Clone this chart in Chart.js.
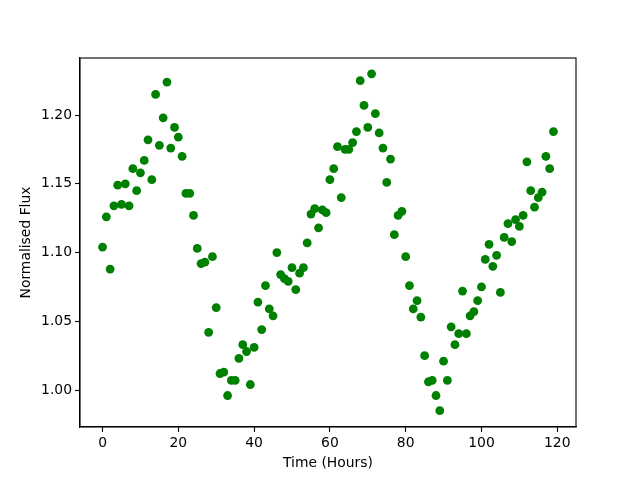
<!DOCTYPE html>
<html>
<head>
<meta charset="utf-8">
<script src="https://cdn.jsdelivr.net/npm/chart.js@4"></script>
<style>
  html, body { margin: 0; padding: 0; background: #fff; }
  #chart { display: block; }
</style>
</head>
<body>
<canvas id="chart" width="640" height="480"></canvas>
<script>
// observation times, one per hour
const hours = [
  0, 1, 2, 3, 4, 5, 6, 7, 8, 9, 10, 11, 12, 13, 14, 15, 16, 17, 18, 19,
  20, 21, 22, 23, 24, 25, 26, 27, 28, 29, 30, 31, 32, 33, 34, 35, 36, 37, 38, 39,
  40, 41, 42, 43, 44, 45, 46, 47, 48, 49, 50, 51, 52, 53, 54, 55, 56, 57, 58, 59,
  60, 61, 62, 63, 64, 65, 66, 67, 68, 69, 70, 71, 72, 73, 74, 75, 76, 77, 78, 79,
  80, 81, 82, 83, 84, 85, 86, 87, 88, 89, 90, 91, 92, 93, 94, 95, 96, 97, 98, 99,
  100, 101, 102, 103, 104, 105, 106, 107, 108, 109, 110, 111, 112, 113, 114, 115, 116, 117, 118, 119
];

// normalised flux
const flux = [
  1.104, 1.126, 1.088, 1.134, 1.149, 1.135, 1.150, 1.134, 1.161, 1.145,
  1.158, 1.167, 1.182, 1.153, 1.215, 1.178, 1.198, 1.224, 1.176, 1.191,
  1.184, 1.170, 1.143, 1.143, 1.127, 1.103, 1.092, 1.093, 1.042, 1.097,
  1.060, 1.012, 1.013, 0.996, 1.007, 1.007, 1.023, 1.033, 1.028, 1.004,
  1.031, 1.064, 1.044, 1.076, 1.059, 1.054, 1.100, 1.084, 1.081, 1.079,
  1.089, 1.073, 1.085, 1.089, 1.107, 1.128, 1.132, 1.118, 1.131, 1.129,
  1.153, 1.161, 1.177, 1.140, 1.175, 1.175, 1.180, 1.188, 1.225, 1.207,
  1.191, 1.230, 1.201, 1.187, 1.176, 1.151, 1.168, 1.113, 1.127, 1.130,
  1.097, 1.076, 1.059, 1.065, 1.053, 1.025, 1.006, 1.007, 0.996, 0.985,
  1.021, 1.007, 1.046, 1.033, 1.041, 1.072, 1.041, 1.054, 1.057, 1.065,
  1.075, 1.095, 1.106, 1.090, 1.098, 1.071, 1.111, 1.121, 1.108, 1.124,
  1.119, 1.127, 1.166, 1.145, 1.133, 1.140, 1.144, 1.170, 1.161, 1.188
];

const xTicks = [0, 20, 40, 60, 80, 100, 120];
const yTicks = [1.00, 1.05, 1.10, 1.15, 1.20];

const points = hours.map((h, i) => ({ x: h, y: flux[i] }));

// draws the top and right spines like matplotlib
const frame = {
  id: 'frame',
  afterDraw(chart) {
    const { ctx, chartArea: a } = chart;
    ctx.save();
    ctx.strokeStyle = '#000';
    ctx.lineWidth = 1.1;
    ctx.strokeRect(a.left, a.top, a.right - a.left, a.bottom - a.top);
    ctx.restore();
  }
};

const font = { family: 'DejaVu Sans', size: 13.9 };

new Chart(document.getElementById('chart'), {
  type: 'scatter',
  data: {
    datasets: [{
      data: points,
      backgroundColor: '#008000',
      borderWidth: 0,
      pointRadius: 4.4,
      pointHoverRadius: 4.4
    }]
  },
  options: {
    responsive: false,
    animation: false,
    layout: { padding: { top: 58, right: 64, left: 0, bottom: 0 } },
    plugins: {
      legend: { display: false },
      tooltip: { enabled: false }
    },
    scales: {
      x: {
        type: 'linear',
        min: -5.95,
        max: 124.95,
        afterBuildTicks: s => { s.ticks = xTicks.map(v => ({ value: v })); },
        afterFit: s => { s.height = 53; },
        grid: { drawOnChartArea: false, drawTicks: true, tickLength: 5, color: '#000', tickWidth: 1.1 },
        border: { display: true, color: '#000', width: 1.1 },
        ticks: { color: '#000', font, padding: 3, maxRotation: 0 },
        title: { display: true, text: 'Time (Hours)', color: '#000', font, padding: { bottom: 8.6 } }
      },
      y: {
        type: 'linear',
        min: 0.9731,
        max: 1.2415,
        afterBuildTicks: s => { s.ticks = yTicks.map(v => ({ value: v })); },
        afterFit: s => { s.width = 80; },
        grid: { drawOnChartArea: false, drawTicks: true, tickLength: 5, color: '#000', tickWidth: 1.1 },
        border: { display: true, color: '#000', width: 1.1 },
        ticks: { color: '#000', font, padding: 3, callback: v => v.toFixed(2) },
        title: { display: true, text: 'Normalised Flux', color: '#000', font, padding: { top: 17.6 } }
      }
    }
  },
  plugins: [frame]
});
</script>
</body>
</html>
